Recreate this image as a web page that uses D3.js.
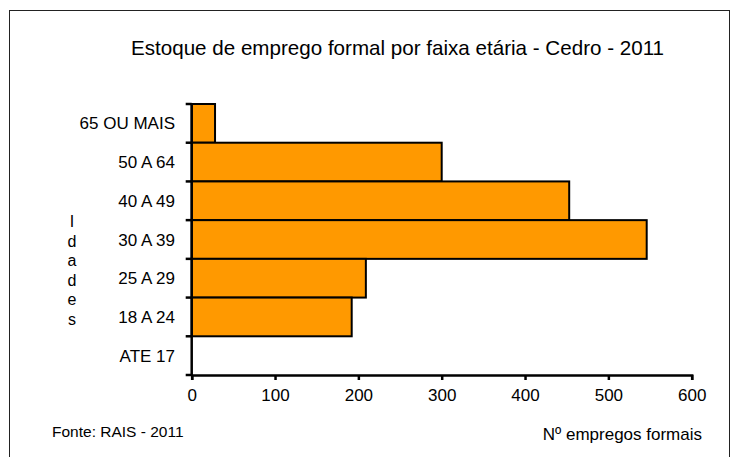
<!DOCTYPE html>
<html>
<head>
<meta charset="utf-8">
<script src="https://cdn.jsdelivr.net/npm/d3@7"></script>
<style>
	body { margin: 0; background: #fff; }
	text { font-family: Arial, 'Liberation Sans', sans-serif; fill: #000; }
</style>
</head>
<body>
<script>
var categories = ['65 OU MAIS', '50 A 64', '40 A 49', '30 A 39', '25 A 29', '18 A 24', 'ATE 17'];
var values = [28, 300, 453, 546, 209, 192, 0];
var xTicks = [0, 100, 200, 300, 400, 500, 600];
var yTitle = 'Idades';

var width = 731, height = 457;
var svg = d3.select('body').append('svg').attr('width', width).attr('height', height);

// frame round the chart
svg.append('rect').attr('x', 9.5).attr('y', 10.5).attr('width', 720).attr('height', 470)
	.attr('fill', 'none').attr('stroke', '#222').attr('stroke-width', 1);

var x = d3.scaleLinear().domain([0, 600]).range([191.7, 691.7]);
var y = d3.scaleBand().domain(categories).range([104, 375]).padding(0);

var data = categories.map(function(c, i) { return { cat: c, value: values[i] }; });

// bars
svg.selectAll('rect.bar').data(data.filter(function(d) { return d.value > 0; })).enter()
	.append('rect').attr('class', 'bar')
	.attr('x', x(0))
	.attr('y', function(d) { return y(d.cat); })
	.attr('width', function(d) { return x(d.value) - x(0); })
	.attr('height', y.bandwidth())
	.attr('fill', '#FF9900')
	.attr('stroke', '#000')
	.attr('stroke-width', 2);

// x axis
var xAxis = svg.append('g').attr('transform', 'translate(0,375)')
	.call(d3.axisBottom(x).tickValues(xTicks).tickSize(5).tickPadding(9).tickFormat(d3.format('d')));
xAxis.select('.domain').attr('stroke', '#000').attr('stroke-width', 2.5);
xAxis.selectAll('.tick line').attr('stroke', '#000').attr('stroke-width', 2.5);
xAxis.selectAll('text').attr('font-size', 17).attr('font-family', 'Arial, Liberation Sans, sans-serif').attr('fill', '#000');

// y axis: line, ticks at band edges, labels in the bands
var edges = categories.map(function(c) { return y(c); }).concat([y.range()[1]]);
svg.append('line').attr('x1', x(0)).attr('x2', x(0)).attr('y1', 103).attr('y2', 376)
	.attr('stroke', '#000').attr('stroke-width', 2.5);
svg.selectAll('line.ytick').data(edges).enter().append('line').attr('class', 'ytick')
	.attr('x1', x(0) - 6).attr('x2', x(0))
	.attr('y1', function(d) { return d; }).attr('y2', function(d) { return d; })
	.attr('stroke', '#000').attr('stroke-width', 2.5);
svg.selectAll('text.ylab').data(categories).enter().append('text').attr('class', 'ylab')
	.attr('x', 175)
	.attr('y', function(d) { return y(d) + y.bandwidth() / 2 + 6; })
	.attr('text-anchor', 'end').attr('font-size', 17)
	.text(function(d) { return d; });

// stacked letters of the y title
svg.selectAll('text.ytitle').data(yTitle.split('')).enter().append('text').attr('class', 'ytitle')
	.attr('x', 72).attr('y', function(d, i) { return 227 + i * 19.5; })
	.attr('text-anchor', 'middle').attr('font-size', 16)
	.text(function(d) { return d; });

// title and notes
svg.append('text').attr('x', 397.5).attr('y', 55).attr('text-anchor', 'middle')
	.attr('font-size', 20.6).text('Estoque de emprego formal por faixa etária - Cedro - 2011');
svg.append('text').attr('x', 52).attr('y', 437).attr('font-size', 15.5).text('Fonte: RAIS - 2011');
svg.append('text').attr('x', 702).attr('y', 440).attr('text-anchor', 'end')
	.attr('font-size', 17).text('Nº empregos formais');
</script>
</body>
</html>
